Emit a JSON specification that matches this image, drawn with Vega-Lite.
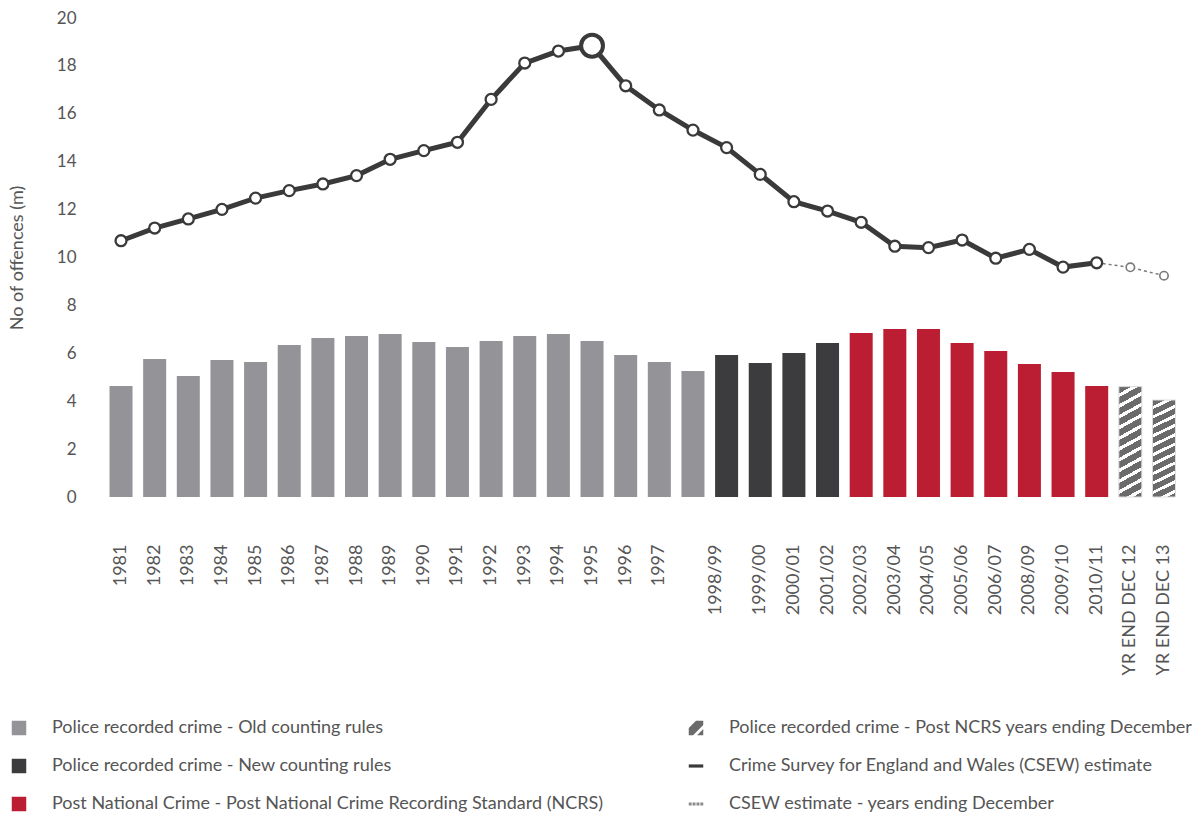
{
  "$schema": "https://vega.github.io/schema/vega-lite/v6.json",
  "autosize": {"type": "none"},
  "padding": {"left": 90, "top": 18, "right": 6, "bottom": 320},
  "width": 1105,
  "height": 479,
  "config": {
    "view": {"stroke": null},
    "font": "Lato",
    "axis": {"domain": false, "ticks": false, "grid": false, "labelColor": "#555555", "titleColor": "#555555", "labelFont": "Lato", "titleFont": "Lato", "titleFontWeight": "normal"},
    "legend": {"labelFont": "Lato", "labelColor": "#555555"}
  },
  "data": {"values": [
    {"period": "1981", "bar": 4.63, "series": "Police recorded crime - Old counting rules", "csew": 10.70},
    {"period": "1982", "bar": 5.76, "series": "Police recorded crime - Old counting rules", "csew": 11.23},
    {"period": "1983", "bar": 5.05, "series": "Police recorded crime - Old counting rules", "csew": 11.61},
    {"period": "1984", "bar": 5.72, "series": "Police recorded crime - Old counting rules", "csew": 12.01},
    {"period": "1985", "bar": 5.64, "series": "Police recorded crime - Old counting rules", "csew": 12.48},
    {"period": "1986", "bar": 6.35, "series": "Police recorded crime - Old counting rules", "csew": 12.79},
    {"period": "1987", "bar": 6.64, "series": "Police recorded crime - Old counting rules", "csew": 13.07},
    {"period": "1988", "bar": 6.72, "series": "Police recorded crime - Old counting rules", "csew": 13.42},
    {"period": "1989", "bar": 6.81, "series": "Police recorded crime - Old counting rules", "csew": 14.10},
    {"period": "1990", "bar": 6.47, "series": "Police recorded crime - Old counting rules", "csew": 14.46},
    {"period": "1991", "bar": 6.26, "series": "Police recorded crime - Old counting rules", "csew": 14.81},
    {"period": "1992", "bar": 6.51, "series": "Police recorded crime - Old counting rules", "csew": 16.60},
    {"period": "1993", "bar": 6.72, "series": "Police recorded crime - Old counting rules", "csew": 18.12},
    {"period": "1994", "bar": 6.81, "series": "Police recorded crime - Old counting rules", "csew": 18.62},
    {"period": "1995", "bar": 6.51, "series": "Police recorded crime - Old counting rules", "csew": 18.84},
    {"period": "1996", "bar": 5.93, "series": "Police recorded crime - Old counting rules", "csew": 17.17},
    {"period": "1997", "bar": 5.64, "series": "Police recorded crime - Old counting rules", "csew": 16.16},
    {"period": "1998/99 (old)", "bar": 5.26, "series": "Police recorded crime - Old counting rules", "csew": 15.32},
    {"period": "1998/99", "bar": 5.93, "series": "Police recorded crime - New counting rules", "csew": 14.59},
    {"period": "1999/00", "bar": 5.59, "series": "Police recorded crime - New counting rules", "csew": 13.47},
    {"period": "2000/01", "bar": 6.01, "series": "Police recorded crime - New counting rules", "csew": 12.33},
    {"period": "2001/02", "bar": 6.43, "series": "Police recorded crime - New counting rules", "csew": 11.94},
    {"period": "2002/03", "bar": 6.85, "series": "Post National Crime - Post National Crime Recording Standard (NCRS)", "csew": 11.47},
    {"period": "2003/04", "bar": 7.01, "series": "Post National Crime - Post National Crime Recording Standard (NCRS)", "csew": 10.47},
    {"period": "2004/05", "bar": 7.01, "series": "Post National Crime - Post National Crime Recording Standard (NCRS)", "csew": 10.41},
    {"period": "2005/06", "bar": 6.43, "series": "Post National Crime - Post National Crime Recording Standard (NCRS)", "csew": 10.73},
    {"period": "2006/07", "bar": 6.10, "series": "Post National Crime - Post National Crime Recording Standard (NCRS)", "csew": 9.97},
    {"period": "2008/09", "bar": 5.55, "series": "Post National Crime - Post National Crime Recording Standard (NCRS)", "csew": 10.34},
    {"period": "2009/10", "bar": 5.22, "series": "Post National Crime - Post National Crime Recording Standard (NCRS)", "csew": 9.60},
    {"period": "2010/11", "bar": 4.63, "series": "Post National Crime - Post National Crime Recording Standard (NCRS)", "csew": 9.78, "csewDec": 9.78},
    {"period": "YR END DEC 12", "bar": 4.61, "series": "Police recorded crime - Post NCRS years ending December", "csewDec": 9.59},
    {"period": "YR END DEC 13", "bar": 4.05, "series": "Police recorded crime - Post NCRS years ending December", "csewDec": 9.24}
  ]},
  "encoding": {
    "x": {
      "field": "period", "type": "nominal", "title": null,
      "scale": {
        "domain": ["1981","1982","1983","1984","1985","1986","1987","1988","1989","1990","1991","1992","1993","1994","1995","1996","1997","1998/99 (old)","1998/99","1999/00","2000/01","2001/02","2002/03","2003/04","2004/05","2005/06","2006/07","2008/09","2009/10","2010/11","YR END DEC 12","YR END DEC 13"],
        "paddingInner": 0.316, "paddingOuter": 0.58
      },
      "axis": {
        "labelAngle": -90, "labelFontSize": 18, "labelPadding": 47,
        "labelExpr": "datum.value === '1998/99 (old)' ? '' : datum.value",
        "labelOffset": {"condition": {"test": "datum.value === '1998/99'", "value": -11}, "value": 0}
      }
    }
  },
  "layer": [
    {
      "transform": [{"filter": "datum.series !== 'Police recorded crime - Post NCRS years ending December'"}],
      "mark": {"type": "bar"},
      "encoding": {
        "y": {"field": "bar", "type": "quantitative", "title": "No of offences (m)",
          "scale": {"domain": [0, 20]},
          "axis": {"values": [0,2,4,6,8,10,12,14,16,18,20], "labelFontSize": 17, "labelPadding": 14, "titleFontSize": 18, "titlePadding": 30}},
        "color": {
          "field": "series", "type": "nominal",
          "scale": {
            "domain": ["Police recorded crime - Old counting rules", "Police recorded crime - New counting rules", "Post National Crime - Post National Crime Recording Standard (NCRS)", "Police recorded crime - Post NCRS years ending December", "Crime Survey for England and Wales (CSEW) estimate", "CSEW estimate - years ending December"],
            "range": ["#949498", "#3c3c3e", "#bb1e32", "#6b6b6b", "#3a3a3a", "#8a8a8a"]
          },
          "legend": {
            "title": null, "orient": "none", "legendX": -80, "legendY": 701, "columns": 2,
            "labelFontSize": 18, "labelLimit": 800, "symbolSize": 210, "labelOffset": 24, "rowPadding": 20, "columnPadding": 83,
            "symbolStrokeWidth": 0,
            "encode": {"symbols": {"update": {"shape": {"signal": "datum.value === 'Police recorded crime - Post NCRS years ending December' ? 'M-1,1L-1,0L0,-1L1,-1L1,-0.4L-0.4,1Z M0.15,1L1,0.15L1,1Z' : datum.value === 'Crime Survey for England and Wales (CSEW) estimate' ? 'M-1,-0.22H1V0.22H-1Z' : datum.value === 'CSEW estimate - years ending December' ? 'M-1,-0.2H-0.6V0.2H-1Z M-0.47,-0.2H-0.07V0.2H-0.47Z M0.07,-0.2H0.47V0.2H0.07Z M0.6,-0.2H1V0.2H0.6Z' : 'square'"}}}}
          }
        }
      }
    },
    {
      "transform": [{"filter": "datum.series === 'Police recorded crime - Post NCRS years ending December'"}],
      "mark": {"type": "bar", "stroke": "#dddddd", "strokeWidth": 1,
        "fill": {"gradient": "linear", "x1": 0, "y1": 0, "x2": 0.132, "y2": 1.152, "stops": [
          {"offset": 0, "color": "#6b6b6b"}, {"offset": 0.0542, "color": "#6b6b6b"}, {"offset": 0.0542, "color": "#ffffff"}, {"offset": 0.0833, "color": "#ffffff"},
          {"offset": 0.0833, "color": "#6b6b6b"}, {"offset": 0.1375, "color": "#6b6b6b"}, {"offset": 0.1375, "color": "#ffffff"}, {"offset": 0.1667, "color": "#ffffff"},
          {"offset": 0.1667, "color": "#6b6b6b"}, {"offset": 0.2208, "color": "#6b6b6b"}, {"offset": 0.2208, "color": "#ffffff"}, {"offset": 0.25, "color": "#ffffff"},
          {"offset": 0.25, "color": "#6b6b6b"}, {"offset": 0.3042, "color": "#6b6b6b"}, {"offset": 0.3042, "color": "#ffffff"}, {"offset": 0.3333, "color": "#ffffff"},
          {"offset": 0.3333, "color": "#6b6b6b"}, {"offset": 0.3875, "color": "#6b6b6b"}, {"offset": 0.3875, "color": "#ffffff"}, {"offset": 0.4167, "color": "#ffffff"},
          {"offset": 0.4167, "color": "#6b6b6b"}, {"offset": 0.4708, "color": "#6b6b6b"}, {"offset": 0.4708, "color": "#ffffff"}, {"offset": 0.5, "color": "#ffffff"},
          {"offset": 0.5, "color": "#6b6b6b"}, {"offset": 0.5542, "color": "#6b6b6b"}, {"offset": 0.5542, "color": "#ffffff"}, {"offset": 0.5833, "color": "#ffffff"},
          {"offset": 0.5833, "color": "#6b6b6b"}, {"offset": 0.6375, "color": "#6b6b6b"}, {"offset": 0.6375, "color": "#ffffff"}, {"offset": 0.6667, "color": "#ffffff"},
          {"offset": 0.6667, "color": "#6b6b6b"}, {"offset": 0.7208, "color": "#6b6b6b"}, {"offset": 0.7208, "color": "#ffffff"}, {"offset": 0.75, "color": "#ffffff"},
          {"offset": 0.75, "color": "#6b6b6b"}, {"offset": 0.8042, "color": "#6b6b6b"}, {"offset": 0.8042, "color": "#ffffff"}, {"offset": 0.8333, "color": "#ffffff"},
          {"offset": 0.8333, "color": "#6b6b6b"}, {"offset": 0.8875, "color": "#6b6b6b"}, {"offset": 0.8875, "color": "#ffffff"}, {"offset": 0.9167, "color": "#ffffff"},
          {"offset": 0.9167, "color": "#6b6b6b"}, {"offset": 0.9708, "color": "#6b6b6b"}, {"offset": 0.9708, "color": "#ffffff"}, {"offset": 1, "color": "#ffffff"}
        ]}},
      "encoding": {"y": {"field": "bar", "type": "quantitative"}}
    },
    {
      "transform": [{"filter": "isValid(datum.csewDec)"}],
      "mark": {"type": "line", "color": "#7a7a7a", "strokeWidth": 1.5, "strokeDash": [3, 3]},
      "encoding": {"y": {"field": "csewDec", "type": "quantitative"}, "order": {"value": null}}
    },
    {
      "transform": [{"filter": "isValid(datum.csewDec)"}],
      "mark": {"type": "point", "shape": "circle", "filled": true, "fill": "#ffffff", "stroke": "#7a7a7a", "strokeWidth": 1.6, "size": 70, "opacity": 1},
      "encoding": {"y": {"field": "csewDec", "type": "quantitative"}}
    },
    {
      "transform": [{"filter": "isValid(datum.csew)"}],
      "mark": {"type": "line", "color": "#3a3a3a", "strokeWidth": 5},
      "encoding": {"y": {"field": "csew", "type": "quantitative"}, "order": {"value": null}}
    },
    {
      "transform": [{"filter": "isValid(datum.csew) && datum.period !== '1995'"}],
      "mark": {"type": "point", "shape": "circle", "filled": true, "fill": "#ffffff", "stroke": "#3a3a3a", "strokeWidth": 2.3, "size": 120, "opacity": 1},
      "encoding": {"y": {"field": "csew", "type": "quantitative"}}
    },
    {
      "transform": [{"filter": "datum.period === '1995'"}],
      "mark": {"type": "point", "shape": "circle", "filled": true, "fill": "#ffffff", "stroke": "#3a3a3a", "strokeWidth": 4, "size": 480, "opacity": 1},
      "encoding": {"y": {"field": "csew", "type": "quantitative"}}
    }
  ]
}
